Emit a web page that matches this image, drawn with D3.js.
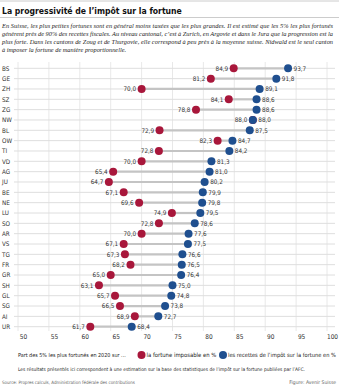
<!DOCTYPE html>
<html lang="fr">
<head>
<meta charset="UTF-8">
<title>La progressivité de l'impôt sur la fortune</title>
<script src="https://cdn.jsdelivr.net/npm/d3@7"></script>
<style>
  body { margin: 0; background: #fff; }
  svg { display: block; }
  .cond { font-family: "Liberation Sans Narrow", "DejaVu Sans Condensed", "Roboto", sans-serif; }
</style>
</head>
<body>
<svg id="chart"></svg>
<script>
// cantons, top to bottom
var cantons = ["BS","GE","ZH","SZ","ZG","NW","BL","OW","TI","VD","AG","JU","BE","NE","LU","SO","AR","VS","TG","FR","GR","SH","GL","SG","AI","UR"];
// part des 5% sur la fortune imposable (%)
var fortune = [84.9,81.2,70.0,84.1,78.8,88.0,72.9,82.3,72.8,70.0,65.4,64.7,67.1,69.6,74.9,72.8,70.0,67.1,67.3,68.2,65.0,63.1,65.7,66.5,68.9,61.7];
// part des 5% sur les recettes de l'impôt sur la fortune (%)
var recettes = [93.7,91.8,89.1,88.6,88.6,88.0,87.5,84.7,84.2,81.3,81.0,80.2,79.9,79.8,79.5,78.6,77.6,77.5,76.6,76.5,76.4,75.0,74.8,73.8,72.7,68.4];
var ticks = [50,55,60,65,70,75,80,85,90,95,100];

var introLines = [
  "En Suisse, les plus petites fortunes sont en général moins taxées que les plus grandes. Il est estimé que les 5% les plus fortunés",
  "génèrent près de 90% des recettes fiscales. Au niveau cantonal, c’est à Zurich, en Argovie et dans le Jura que la progression est la",
  "plus forte. Dans les cantons de Zoug et de Thurgovie, elle correspond à peu près à la moyenne suisse. Nidwald est le seul canton",
  "à imposer la fortune de manière proportionnelle."
];

var W = 339, H = 387;
var red = "#a8173b", blue = "#1f4f8f";
var fmt = function(v){ return d3.format(".1f")(v).replace(".", ","); };

var svg = d3.select("#chart").attr("width", W).attr("height", H);

// shrink a text until it is no wider than w
function fit(t, w){
  var fs = +t.attr("font-size") || 6.3;
  var len = t.node().getComputedTextLength();
  if (len > w) t.attr("font-size", fs * w / len);
  return t;
}

// header
svg.append("line").attr("x1",0).attr("x2",W).attr("y1",1).attr("y2",1)
  .attr("stroke","#ccc").attr("stroke-width",1);
var title = svg.append("text").attr("class","cond")
  .attr("x",2).attr("y",14)
  .attr("font-size",12.5).attr("font-weight","bold").attr("fill","#111")
  .text("La progressivité de l’impôt sur la fortune");
fit(title, 180);
svg.append("line").attr("x1",0).attr("x2",W).attr("y1",17.5).attr("y2",17.5)
  .attr("stroke","#ccc").attr("stroke-width",1);

// intro: shrink font until each line fits, then justify the first three
var intro = svg.append("g").selectAll("text")
  .data(introLines).enter().append("text")
  .attr("x",2)
  .attr("y",function(d,i){ return 27.5 + i*8; })
  .attr("font-family","Liberation Serif, serif")
  .attr("font-style","italic")
  .attr("font-size",7.2)
  .attr("fill","#222")
  .text(function(d){ return d; });
var maxLen = d3.max(intro.nodes(), function(n){ return n.getComputedTextLength(); });
var fs = Math.min(7.2, 7.2 * 331 / maxLen);
intro.attr("font-size", fs);
intro.each(function(d,i){
  if (i < 3) d3.select(this).attr("textLength",331).attr("lengthAdjust","spacing");
});

// scales
var x = d3.scaleLinear().domain([50,100]).range([18,327]);
var y = d3.scalePoint().domain(cantons).range([68.3,326.7]);

// vertical grid
svg.append("g").selectAll("line")
  .data(ticks).enter().append("line")
  .attr("x1",function(d){ return x(d); }).attr("x2",function(d){ return x(d); })
  .attr("y1",62).attr("y2",331)
  .attr("stroke","#e2e2e2").attr("stroke-width",0.8);

// row lines
svg.append("g").selectAll("line")
  .data(cantons).enter().append("line")
  .attr("x1",14).attr("x2",335)
  .attr("y1",function(d){ return y(d); }).attr("y2",function(d){ return y(d); })
  .attr("stroke","#dedede").attr("stroke-width",1);

// canton labels
svg.append("g").selectAll("text")
  .data(cantons).enter().append("text")
  .attr("class","cond")
  .attr("x",2)
  .attr("y",function(d){ return y(d) + 2.2; })
  .attr("font-size",6.3).attr("fill","#333")
  .text(function(d){ return d; });

// connectors
var rows = cantons.map(function(c,i){ return {c:c, f:fortune[i], r:recettes[i]}; });
svg.append("g").selectAll("line")
  .data(rows).enter().append("line")
  .attr("x1",function(d){ return x(d.f); }).attr("x2",function(d){ return x(d.r); })
  .attr("y1",function(d){ return y(d.c); }).attr("y2",function(d){ return y(d.c); })
  .attr("stroke","#c4c4c4").attr("stroke-width",2.2);

// dots
svg.append("g").selectAll("circle")
  .data(rows).enter().append("circle")
  .attr("cx",function(d){ return x(d.f); })
  .attr("cy",function(d){ return y(d.c); })
  .attr("r",4).attr("fill",red);
svg.append("g").selectAll("circle")
  .data(rows).enter().append("circle")
  .attr("cx",function(d){ return x(d.r); })
  .attr("cy",function(d){ return y(d.c); })
  .attr("r",4).attr("fill",blue);

// value labels
svg.append("g").selectAll("text")
  .data(rows).enter().append("text")
  .attr("class","cond")
  .attr("x",function(d){ return x(d.f) - 5.5; })
  .attr("y",function(d){ return y(d.c) + 2.2; })
  .attr("text-anchor","end")
  .attr("font-size",6.3).attr("fill","#333")
  .text(function(d){ return fmt(d.f); });
svg.append("g").selectAll("text")
  .data(rows).enter().append("text")
  .attr("class","cond")
  .attr("x",function(d){ return x(d.r) + 5.5; })
  .attr("y",function(d){ return y(d.c) + 2.2; })
  .attr("font-size",6.3).attr("fill","#333")
  .text(function(d){ return fmt(d.r); });

// x axis
var axis = svg.append("g")
  .attr("transform","translate(5,333)")
  .call(d3.axisBottom(x).tickValues(ticks).tickSize(0).tickFormat(d3.format("d")));
axis.select(".domain").remove();
axis.selectAll("text").attr("class","cond").attr("font-size",6.5).attr("fill","#333")
  .attr("dy","0.4em").attr("font-family", null);

// legend
var lg = svg.append("g").attr("class","cond").attr("fill","#222");
fit(lg.append("text").attr("x",18).attr("y",357.3).attr("font-size",6.3)
  .text("Part des 5% les plus fortunés en 2020 sur ..."), 108);
lg.append("circle").attr("cx",141.5).attr("cy",355).attr("r",4).attr("fill",red);
fit(lg.append("text").attr("x",146.5).attr("y",357.3).attr("font-size",6.3)
  .text("la fortune imposable en %"), 70);
lg.append("circle").attr("cx",223).attr("cy",355).attr("r",4).attr("fill",blue);
fit(lg.append("text").attr("x",228).attr("y",357.3).attr("font-size",6.3)
  .text("les recettes de l’impôt sur la fortune en %"), 108);

fit(svg.append("text").attr("class","cond").attr("x",18).attr("y",370.5)
  .attr("font-size",5.2).attr("fill","#222")
  .text("Les résultats présentés ici correspondent à une estimation sur la base des statistiques de l’impôt sur la fortune publiées par l’AFC."), 287);

// source
fit(svg.append("text").attr("class","cond").attr("x",2).attr("y",384)
  .attr("font-size",5.2).attr("fill","#666")
  .text("Source: Propres calculs, Administration fédérale des contributions"), 133);
svg.append("text").attr("class","cond").attr("x",336).attr("y",384)
  .attr("font-size",5).attr("fill","#666").attr("text-anchor","end")
  .text("Figure: Avenir Suisse");
</script>
</body>
</html>
